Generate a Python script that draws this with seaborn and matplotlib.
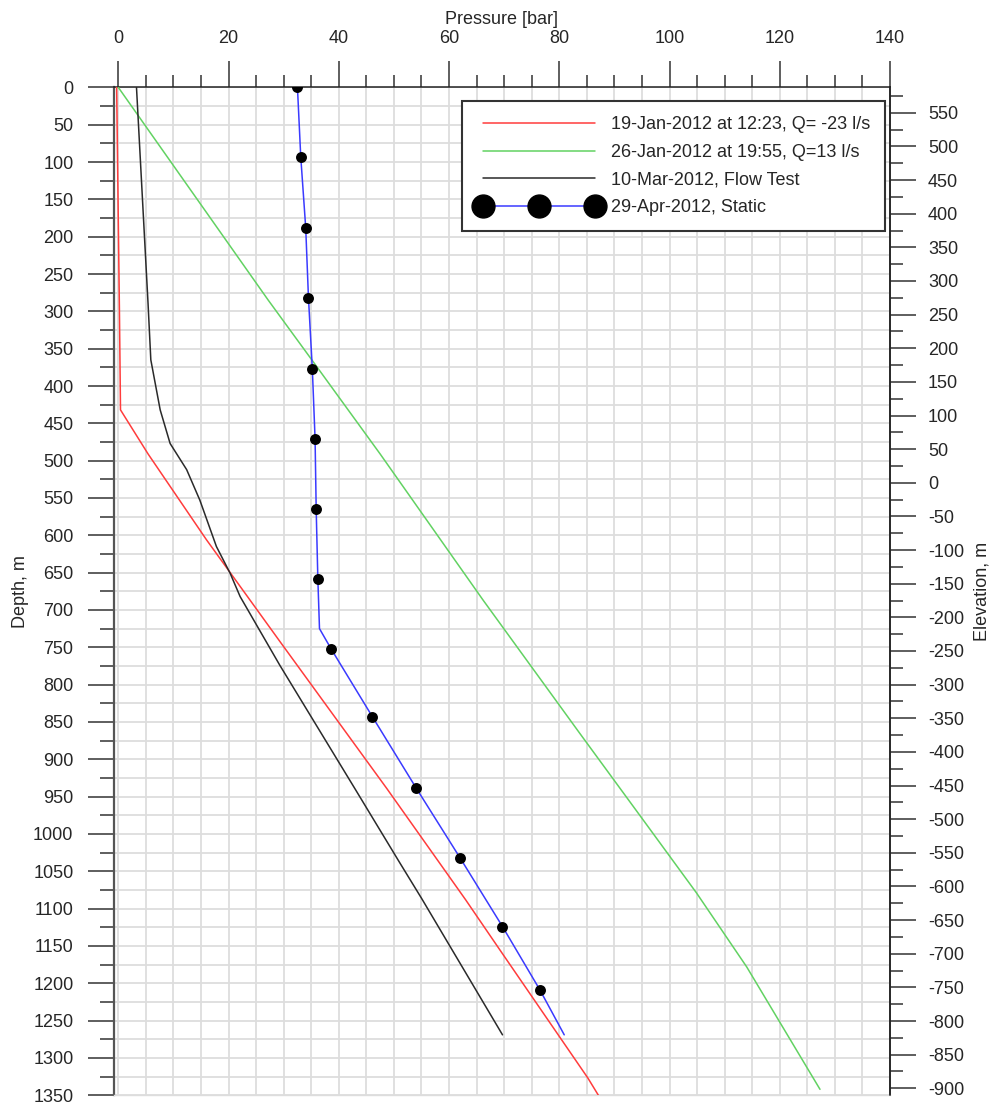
import numpy as np
import pandas as pd
import matplotlib
matplotlib.use("Agg")
import matplotlib.pyplot as plt
from matplotlib.lines import Line2D
from matplotlib.ticker import MultipleLocator
import seaborn as sns

# ---------------- data ----------------
red_pressure = [-0.3, 0.2, 0.4, 5.4, 16.0, 29.3, 48.7, 63.0, 69.2, 85.2, 87.1]
red_depth = [0, 296, 432, 491, 606, 742, 939, 1088, 1155, 1327, 1350]

green_pressure = [0.0, 27.2, 35.6, 47.5, 66.2, 83.7, 95.2, 104.9, 114.0, 127.3]
green_depth = [0, 285, 370, 491, 687, 865, 981, 1079, 1178, 1342]

black_pressure = [3.3, 5.4, 5.9, 7.6, 9.4, 12.4, 14.8, 17.8, 20.3, 22.1, 29.3, 42.9, 51.1, 55.0, 69.7]
black_depth = [0, 290, 365, 432, 477, 512, 553, 615, 651, 682, 774, 939, 1039, 1086, 1269]

static_line_pressure = [32.5, 33.1, 34.0, 34.5, 35.2, 35.7, 35.9, 36.2, 36.5, 38.6, 46.1, 54.0, 62.0, 69.7, 76.5, 80.9]
static_line_depth = [0, 93, 188, 282, 377, 471, 565, 658, 725, 752, 843, 938, 1032, 1124, 1209, 1269]

static_pressure = [32.5, 33.1, 34.0, 34.5, 35.2, 35.7, 35.9, 36.2, 38.6, 46.1, 54.0, 62.0, 69.7, 76.5]
static_depth = [0, 93, 188, 282, 377, 471, 565, 658, 752, 843, 938, 1032, 1124, 1209]

labels = ["19-Jan-2012 at 12:23, Q= -23 l/s",
          "26-Jan-2012 at 19:55, Q=13 l/s",
          "10-Mar-2012, Flow Test",
          "29-Apr-2012, Static"]
colors = ["#ff3c3c", "#62d262", "#2a2a2a", "#3a3aff"]

# ---------------- style ----------------
sns.set_theme(style="white")
plt.rcParams["font.family"] = ["Liberation Sans", "DejaVu Sans"]
plt.rcParams["axes.unicode_minus"] = False
text_col = "#262626"
fs = 13

fig = plt.figure(figsize=(9.9, 11.04), dpi=100)
ax = fig.add_axes([0.11515, 0.00788, 0.78384, 0.9130])

series = [(red_pressure, red_depth), (green_pressure, green_depth),
          (black_pressure, black_depth), (static_line_pressure, static_line_depth)]
for (p, d), c in zip(series, colors):
    df = pd.DataFrame({"p": p, "d": d})
    sns.lineplot(data=df, x="p", y="d", orient="y", sort=False, estimator=None,
                 color=c, linewidth=1.1, ax=ax, zorder=3)

sdf = pd.DataFrame({"p": static_pressure, "d": static_depth})
sns.scatterplot(data=sdf, x="p", y="d", color="black", s=62, edgecolor="black",
                linewidth=0, ax=ax, zorder=4)

ax.set_xlim(-0.78, 140)
ax.set_ylim(1350, 0)

ax.xaxis.tick_top()
ax.xaxis.set_label_position("top")
ax.xaxis.set_major_locator(MultipleLocator(20))
ax.xaxis.set_minor_locator(MultipleLocator(5))
ax.yaxis.set_major_locator(MultipleLocator(50))
ax.yaxis.set_minor_locator(MultipleLocator(25))

ax.grid(which="both", color="#dddddd", linewidth=1.3)
ax.set_axisbelow(True)

ax.tick_params(axis="x", which="major", direction="out", length=18.7, width=1.1,
               color="#333333", pad=10, labelsize=fs, labelcolor=text_col,
               top=True, bottom=False)
ax.tick_params(axis="x", which="minor", direction="out", length=8.6, width=1.1,
               color="#333333", top=True, bottom=False)
ax.tick_params(axis="y", which="major", direction="out", length=18.7, width=1.1,
               color="#333333", pad=10.5, labelsize=fs, labelcolor=text_col, left=True)
ax.tick_params(axis="y", which="minor", direction="out", length=10, width=1.1,
               color="#333333", left=True)

ax.set_xlabel("Pressure [bar]", fontsize=fs, color=text_col, labelpad=5)
ax.set_ylabel("Depth, m", fontsize=fs, color=text_col, labelpad=3)

for side in ["top", "right"]:
    ax.spines[side].set_color("#222222")
    ax.spines[side].set_linewidth(1.1)
ax.spines["left"].set_color("#555555")
ax.spines["left"].set_linewidth(1.6)
ax.spines["bottom"].set_color("#dddddd")
ax.spines["bottom"].set_linewidth(1.0)

# right elevation axis
ax2 = ax.twinx()
ax2.set_ylim(-910.4, 587.8)
ax2.yaxis.set_major_locator(MultipleLocator(50))
ax2.yaxis.set_minor_locator(MultipleLocator(25))
ax2.tick_params(axis="y", which="major", direction="out", length=18.7, width=1.1,
                color="#333333", pad=8.6, labelsize=fs, labelcolor=text_col, right=True)
ax2.tick_params(axis="y", which="minor", direction="out", length=9.4, width=1.1,
                color="#333333", right=True)
ax2.set_ylabel("Elevation, m", fontsize=fs, color=text_col, labelpad=6.5)
for s in ["top", "left", "bottom"]:
    ax2.spines[s].set_visible(False)
ax2.spines["right"].set_color("#222222")
ax2.spines["right"].set_linewidth(1.1)
ax2.grid(False)

handles = [Line2D([], [], color=colors[0], lw=1.1),
           Line2D([], [], color=colors[1], lw=1.1),
           Line2D([], [], color=colors[2], lw=1.1),
           Line2D([], [], color=colors[3], lw=1.1, marker="o", markersize=16.5,
                  markerfacecolor="black", markeredgecolor="black")]
leg = ax2.legend(handles, labels, loc="upper left", bbox_to_anchor=(0.4485, 0.9864),
                 bbox_transform=ax.transAxes, borderaxespad=0, fontsize=fs,
                 handlelength=6.8, handletextpad=0.58, labelspacing=0.58,
                 borderpad=0.85, numpoints=3, fancybox=False,
                 framealpha=1, edgecolor="#333333", facecolor="white")
leg.get_frame().set_linewidth(1.5)
for t in leg.get_texts():
    t.set_color(text_col)

fig.savefig("out.png", dpi=100)
